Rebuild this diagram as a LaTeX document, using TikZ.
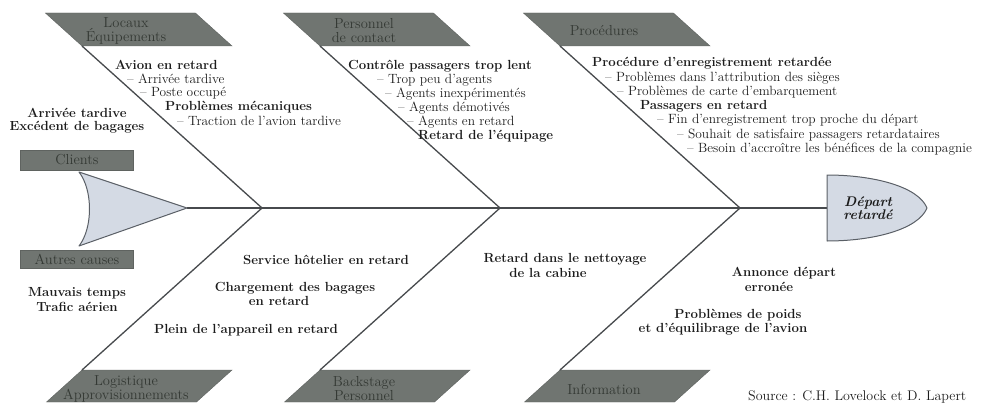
\documentclass[tikz,border=0pt]{standalone}
\usepackage{fontspec}
\definecolor{boxfill}{HTML}{707571}
\definecolor{boxtext}{HTML}{343934}
\definecolor{fishfill}{HTML}{D4DAE4}
\definecolor{fishline}{HTML}{5A5F66}
\definecolor{lineclr}{HTML}{474A4D}
\definecolor{txt}{HTML}{1C1C1C}
\begin{document}
\begin{tikzpicture}[x=1pt,y=-1pt,
  bone/.style={draw=lineclr, line width=1.3pt},
  labelbox/.style={fill=boxfill, draw=boxfill!85!black, line width=0.4pt},
  labeltxt/.style={font=\fontsize{14.5}{14}\selectfont, text=boxtext, align=center, inner sep=0pt},
  maintxt/.style={font=\fontsize{13.2}{13.5}\selectfont\bfseries, text=txt, anchor=west, inner sep=0pt},
  subtxt/.style={font=\fontsize{13.4}{13.5}\selectfont, text=txt, anchor=west, inner sep=0pt},
  ctrtxt/.style={font=\fontsize{13.2}{13.5}\selectfont\bfseries, text=txt, anchor=center, inner sep=0pt},
  fish/.style={fill=fishfill, draw=fishline, line width=1pt, line join=round}]
\useasboundingbox (0,0) rectangle (992,404);
% junctions
\coordinate (tailtip) at (187,208);
\coordinate (headL) at (827,208);
\coordinate (j1) at (262,208);
\coordinate (j2) at (500,208);
\coordinate (j3) at (740,208);
% label boxes
\foreach \j/\n in {262/1,500/2,740/3}{
  \coordinate (t\n bl) at (\j-180,46);
  \fill[labelbox] (\j-180,46) -- (\j-30,46) -- (\j-66.6,13) -- (\j-216.6,13) -- cycle;
  \coordinate (b\n tl) at (\j-180,370);
  \fill[labelbox] (\j-180,370) -- (\j-30,370) -- (\j-65.5,402) -- (\j-215.5,402) -- cycle;
}
\node[labeltxt] (lab1) at (126,31) {Locaux\\Équipements};
\node[labeltxt] (lab2) at (364,31) {Personnel\\de contact};
\node[labeltxt] (lab3) at (604,31) {Procédures};
\node[labeltxt] (lab4) at (126,389) {Logistique\\Approvisionnements};
\node[labeltxt] (lab5) at (364,389) {Backstage\\Personnel};
\node[labeltxt] (lab6) at (604,389) {Information};
% side boxes
\fill[labelbox] (20,150) rectangle (133,170);
\node[labeltxt] (clients) at (77,160) {Clients};
\fill[labelbox] (20,250) rectangle (133,268);
\node[labeltxt] (autres) at (77,259) {Autres causes};
% spine and ribs
\draw[bone] (tailtip) -- (headL);
\draw[bone] (j1) -- (t1bl);
\draw[bone] (j2) -- (t2bl);
\draw[bone] (j3) -- (t3bl);
\draw[bone] (j1) -- (b1tl);
\draw[bone] (j2) -- (b2tl);
\draw[bone] (j3) -- (b3tl);
% tail
\draw[fish] (79,172) -- (tailtip) -- (79,246) .. controls (93,228) and (93,190) .. cycle;
% head
\draw[fish] (827,175) .. controls (872,175) and (918,186) .. (927,208)
  .. controls (918,230) and (872,241) .. (827,241) -- cycle;
\node[font=\fontsize{14}{13}\selectfont\bfseries\itshape, text=txt, align=center, inner sep=0pt] (head) at (868,208) {Départ\\retardé};
% block 1
\node[maintxt] (a1) at (115,65) {Avion en retard};
\node[subtxt] (a2) at (127,79) {\textendash\ Arrivée tardive};
\node[subtxt] (a3) at (140,93) {\textendash\ Poste occupé};
\node[maintxt] (a4) at (165,107) {Problèmes mécaniques};
\node[subtxt] (a5) at (177,121) {\textendash\ Traction de l’avion tardive};
% block 2
\node[maintxt] (p1) at (348,66) {Contrôle passagers trop lent};
\node[subtxt] (p2) at (377,80) {\textendash\ Trop peu d’agents};
\node[subtxt] (p3) at (385,94) {\textendash\ Agents inexpérimentés};
\node[subtxt] (p4) at (398,108) {\textendash\ Agents démotivés};
\node[subtxt] (p5) at (407,122) {\textendash\ Agents en retard};
\node[maintxt] (p6) at (418,136) {Retard de l’équipage};
% block 3
\node[maintxt] (r1) at (592,63.5) {Procédure d’enregistrement retardée};
\node[subtxt] (r2) at (605,77.8) {\textendash\ Problèmes dans l’attribution des sièges};
\node[subtxt] (r3) at (617,92.1) {\textendash\ Problèmes de carte d’embarquement};
\node[maintxt] (r4) at (640,106.4) {Passagers en retard};
\node[subtxt] (r5) at (657,120.7) {\textendash\ Fin d’enregistrement trop proche du départ};
\node[subtxt] (r6) at (677,135) {\textendash\ Souhait de satisfaire passagers retardataires};
\node[subtxt] (r7) at (687,149.3) {\textendash\ Besoin d’accroître les bénéfices de la compagnie};
% clients / other causes
\node[ctrtxt] (c1) at (77,113) {Arrivée tardive};
\node[ctrtxt] (c2) at (77,127) {Excédent de bagages};
\node[ctrtxt] (o1) at (77,293) {Mauvais temps};
\node[ctrtxt] (o2) at (77,307) {Trafic aérien};
% bottom blocks
\node[ctrtxt] (l1) at (326,260) {Service hôtelier en retard};
\node[ctrtxt] (l2) at (295,288) {Chargement des bagages};
\node[ctrtxt] (l3) at (279,301) {en retard};
\node[ctrtxt] (l4) at (246,330) {Plein de l’appareil en retard};
\node[ctrtxt] (k1) at (565,259) {Retard dans le nettoyage};
\node[ctrtxt] (k2) at (548,273) {de la cabine};
\node[ctrtxt] (i1) at (784,273) {Annonce départ};
\node[ctrtxt] (i2) at (769,287) {erronée};
\node[ctrtxt] (i3) at (738,315) {Problèmes de poids};
\node[ctrtxt] (i4) at (723,329) {et d’équilibrage de l’avion};
% source
\node[font=\fontsize{14}{14}\selectfont, text=txt, anchor=west, inner sep=0pt] (src) at (748,397) {Source : C.H. Lovelock et D. Lapert};
\end{tikzpicture}
\end{document}
